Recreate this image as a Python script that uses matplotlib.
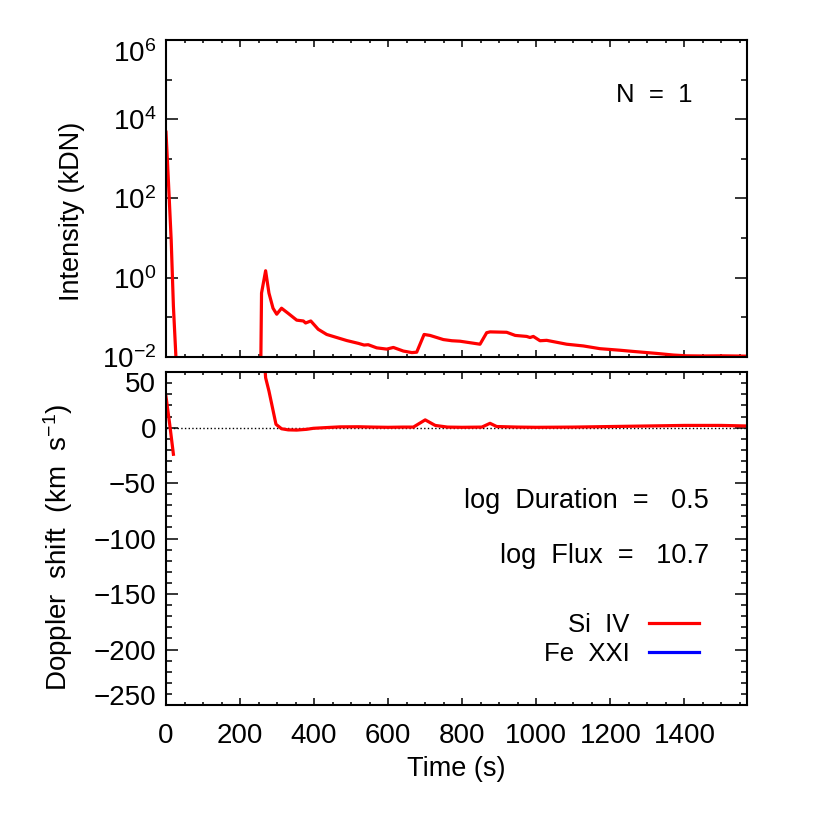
import numpy as np
import matplotlib
matplotlib.use("Agg")
import matplotlib.pyplot as plt
from matplotlib.ticker import FixedLocator, FixedFormatter, MultipleLocator, NullFormatter

plt.rcParams['font.family'] = ['Liberation Sans', 'DejaVu Sans']
plt.rcParams['mathtext.fontset'] = 'custom'
plt.rcParams['mathtext.rm'] = 'Liberation Sans'
plt.rcParams['mathtext.it'] = 'Liberation Sans:italic'
plt.rcParams['mathtext.bf'] = 'Liberation Sans:bold'

# =========================
# Data
# =========================

# Si IV, first short burst
si4_t_early = [0, 7, 14, 20, 30]
si4_int_early = [4700, 220, 9.0, 0.19, 0.0025]
si4_dop_t_early = [0, 10, 20]
si4_dop_early = [28, 3, -24]

# Si IV, main event
si4_t = [255, 258, 269, 278, 289, 299, 312, 330, 353, 371, 377, 391, 411, 434,
         461, 488, 520, 535, 546, 569, 596, 614, 641, 664, 677, 697, 713, 749,
         772, 794, 848, 866, 875, 920, 943, 974, 983, 992, 1010, 1028, 1082,
         1127, 1172, 1226, 1262, 1325, 1370, 1406, 1450, 1500, 1569]
si4_int = [0.0008, 0.41, 1.5, 0.41, 0.17, 0.12, 0.17, 0.126, 0.085, 0.081,
           0.072, 0.081, 0.050, 0.037, 0.031, 0.026, 0.022, 0.020, 0.0204,
           0.017, 0.0158, 0.0174, 0.0141, 0.0129, 0.0132, 0.037, 0.035,
           0.0275, 0.0257, 0.025, 0.021, 0.041, 0.043, 0.042, 0.035, 0.033,
           0.031, 0.033, 0.0257, 0.0263, 0.021, 0.019, 0.0162, 0.0148,
           0.0138, 0.0123, 0.0112, 0.0107, 0.0106, 0.0107, 0.0105]

si4_dop_t = [258, 269, 278, 285, 297, 312, 330, 353, 380, 398, 430, 470, 520,
             560, 600, 640, 668, 700, 727, 760, 800, 853, 875, 893, 950, 1000,
             1100, 1200, 1300, 1400, 1500, 1569]
si4_dop = [100, 45, 33, 22, 3, -1, -2, -2.2, -1.5, -0.6, 0, 0.7, 0.8, 0.5,
           0.3, 0.5, 0.5, 7, 2, 0.5, 0.3, 0.5, 3.9, 1, 0.5, 0.3, 0.5, 1,
           1.5, 2, 2, 1.5]

# Fe XXI: nothing above threshold for this event
fe21_t = []
fe21_dop = []

int_ticks = [1e-2, 1e0, 1e2, 1e4, 1e6]
int_tick_labels = [r'$10^{-2}$', r'$10^{0}$', r'$10^{2}$', r'$10^{4}$', r'$10^{6}$']
int_minor = [1e-1, 1e1, 1e3, 1e5]
dop_ticks = [-250, -200, -150, -100, -50, 0, 50]

n_events = 1
log_duration = 0.5
log_flux = 10.7

# =========================
# Plot
# =========================

fs_tick = 20
fs_lab = 19.5
red = '#ff0000'
blue = '#0000ff'

fig = plt.figure(figsize=(8.3, 8.3), dpi=100)
ax1 = fig.add_axes([0.2, 0.5699, 0.7, 0.382])
ax2 = fig.add_axes([0.2, 0.1506, 0.7, 0.401])

# top: intensity
ax1.plot(si4_t_early, si4_int_early, color=red, linewidth=2.3)
ax1.plot(si4_t, si4_int, color=red, linewidth=2.3)
ax1.set_yscale('log')
ax1.set_ylim(1e-2, 1e6)
ax1.yaxis.set_major_locator(FixedLocator(int_ticks))
ax1.yaxis.set_major_formatter(FixedFormatter(int_tick_labels))
ax1.yaxis.set_minor_locator(FixedLocator(int_minor))
ax1.yaxis.set_minor_formatter(NullFormatter())
ax1.set_ylabel('Intensity (kDN)', fontsize=fs_lab)
ax1.yaxis.set_label_coords(-0.139, 0.46)
ax1.tick_params(axis='x', which='both', labelbottom=False)
ax1.text(0.906, 0.803, 'N  =  %d' % n_events, transform=ax1.transAxes,
         ha='right', va='baseline', fontsize=18.5)

# bottom: Doppler shift
ax2.axhline(0, color='black', linestyle=':', linewidth=1.0)
ax2.plot(si4_dop_t_early, si4_dop_early, color=red, linewidth=2.3)
ax2.plot(si4_dop_t, si4_dop, color=red, linewidth=2.3, label='Si  IV')
ax2.plot(fe21_t, fe21_dop, color=blue, linewidth=2.3, label='Fe  XXI')
ax2.set_ylim(-250, 50)
ax2.yaxis.set_major_locator(FixedLocator(dop_ticks))
ax2.yaxis.set_minor_locator(MultipleLocator(10))
ax2.set_ylabel(r'Doppler  shift  (km  s$^{-1}$)', fontsize=20)
ax2.yaxis.set_label_coords(-0.157, 0.474)
ax2.set_xlabel('Time (s)', fontsize=fs_lab, labelpad=5)
ax2.text(0.935, 0.592, 'log  Duration  =   %.1f' % log_duration,
         transform=ax2.transAxes, ha='right', va='baseline', fontsize=fs_lab)
ax2.text(0.935, 0.4255, 'log  Flux  =   %.1f' % log_flux,
         transform=ax2.transAxes, ha='right', va='baseline', fontsize=fs_lab)
ax2.legend(loc='lower right', bbox_to_anchor=(0.917, 0.117), frameon=False,
           markerfirst=False, fontsize=18.5, handlelength=1.93,
           handletextpad=0.76, labelspacing=0.18, borderpad=0, borderaxespad=0)

for ax in (ax1, ax2):
    ax.set_xlim(0, 1569)
    ax.xaxis.set_major_locator(MultipleLocator(200))
    ax.xaxis.set_minor_locator(MultipleLocator(50))
    for s in ax.spines.values():
        s.set_linewidth(1.5)
    ax.tick_params(axis='both', which='both', direction='in', top=True,
                   right=True, width=1.1, labelsize=fs_tick)
    ax.tick_params(axis='x', which='major', length=4.7, pad=13)
    ax.tick_params(axis='x', which='minor', length=2.4)
    ax.tick_params(axis='y', which='major', length=8.4, pad=7)
    ax.tick_params(axis='y', which='minor', length=4.2)

# end labels pulled inside the frame, as in the original
ax1.yaxis.get_major_ticks()[-1].label1.set_verticalalignment('top')
ax2.yaxis.get_major_ticks()[-1].label1.set_verticalalignment('top')
ax2.yaxis.get_major_ticks()[0].label1.set_verticalalignment('baseline')

fig.savefig('out.png', dpi=100)
